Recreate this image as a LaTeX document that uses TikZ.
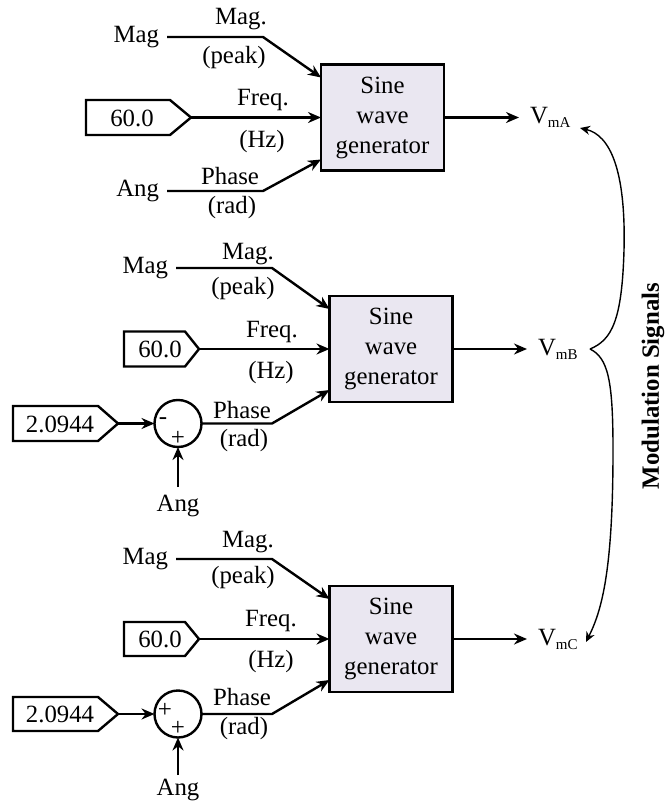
\documentclass[tikz,border=0pt]{standalone}
\usepackage{fontspec}
\setmainfont{Liberation Serif}
\usetikzlibrary{arrows.meta,calc}
\definecolor{boxfill}{RGB}{234,231,241}
% voltage symbol with a lowered, smaller subscript
\newcommand\Vsub[1]{V\raisebox{-2pt}{\fontsize{7.5}{8}\selectfont #1}}
\begin{document}
\begin{tikzpicture}[x=0.5pt,y=-0.5pt,
  every node/.style={font=\fontsize{12.4}{15}\selectfont, inner sep=0pt, outer sep=0pt},
  sig/.style={line width=1.2pt, -{Stealth[length=6.5pt,width=5.5pt]}},
  constbox/.style={draw, line width=1.2pt, fill=white},
  gen/.style={draw, line width=1.4pt, fill=boxfill, minimum width=61.5pt,
              minimum height=53pt, align=center},
  sumnode/.style={draw, circle, line width=1.2pt, minimum size=23.5pt},
  sign/.style={font=\fontsize{12.5}{12.5}\selectfont},
  inlbl/.style={inner sep=4pt},
  outlbl/.style={anchor=west, inner xsep=5.5pt, inner ysep=0pt},
  brace/.style={line width=0.7pt, -{Stealth[length=5pt,width=4.5pt]}}
]
\path[use as bounding box] (0,0) rectangle (667,801);

% ---------------- phase A ----------------
\node[gen] (genA) at (382.5,117.5) {Sine\\wave\\generator};
\node[inlbl, anchor=east] (magA) at (167,37) {Mag};
\node[inlbl, anchor=east] (angA) at (167,191) {Ang};
\draw[constbox] (86,100) -- (170,100) -- (191,117.5) -- (170,135) -- (86,135) -- cycle;
\node (kA) at (132,118) {60.0};
\coordinate (kAtip) at (191,117.5);
\draw[sig] (magA.east) -- (263,37) -- ($(genA.west)+(0,-40)$);
\draw[sig] (kAtip) -- (genA.west);
\draw[sig] (angA.east) -- (263,191) -- ($(genA.west)+(0,42)$);
\node at (241,19) {Mag.};
\node at (234,58) {(peak)};
\node at (263,100) {Freq.};
\node at (262,142) {(Hz)};
\node at (230,176) {Phase};
\node at (232,208) {(rad)};
\node[outlbl] (vA) at (519,117.5) {\Vsub{mA}};
\draw[sig] (genA.east) -- (vA.west);

% ---------------- phase B ----------------
\node[gen] (genB) at (391,349) {Sine\\wave\\generator};
\node[inlbl, anchor=east] (magB) at (176,268) {Mag};
\draw[constbox] (124,331.5) -- (185,331.5) -- (199,349) -- (185,366.5) -- (124,366.5) -- cycle;
\node (kB) at (160,349) {60.0};
\coordinate (kBtip) at (199,349);
\draw[constbox] (13,406) -- (98,406) -- (118,423.5) -- (98,441) -- (13,441) -- cycle;
\node (shB) at (60,424) {2.0944};
\coordinate (shBtip) at (118,423.5);
\node[sumnode] (sumB) at (178,423.5) {};
\node[sign] at (163,421) {-};
\node[sign] at (178,438) {+};
\node[inlbl, anchor=north] (angB) at (178,487) {Ang};
\draw[sig] (magB.east) -- (272,268) -- ($(genB.west)+(0,-40)$);
\draw[sig] (kBtip) -- (genB.west);
\draw[sig] (shBtip) -- (sumB.west);
\draw[sig] (angB.north) -- (sumB.south);
\draw[sig] (sumB.east) -- (272,423.5) -- ($(genB.west)+(0,41)$);
\node at (248,254) {Mag.};
\node at (243,289) {(peak)};
\node at (272,332) {Freq.};
\node at (271,373) {(Hz)};
\node at (242,410) {Phase};
\node at (244,441) {(rad)};
\node[outlbl] (vB) at (527,349) {\Vsub{mB}};
\draw[sig] (genB.east) -- (vB.west);

% ---------------- phase C ----------------
\node[gen] (genC) at (391,639) {Sine\\wave\\generator};
\node[inlbl, anchor=east] (magC) at (176,559) {Mag};
\draw[constbox] (124,622) -- (185,622) -- (199,639) -- (185,656) -- (124,656) -- cycle;
\node (kC) at (160,639) {60.0};
\coordinate (kCtip) at (199,639);
\draw[constbox] (13,697) -- (98,697) -- (118,714) -- (98,731) -- (13,731) -- cycle;
\node (shC) at (60,714) {2.0944};
\coordinate (shCtip) at (118,714);
\node[sumnode] (sumC) at (178,714) {};
\node[sign] at (165,710) {+};
\node[sign] at (178,728) {+};
\node[inner sep=2pt, anchor=north] (angC) at (178,775) {Ang};
\draw[sig] (magC.east) -- (272,559) -- ($(genC.west)+(0,-40)$);
\draw[sig] (kCtip) -- (genC.west);
\draw[sig] (shCtip) -- (sumC.west);
\draw[sig] (angC.north) -- (sumC.south);
\draw[sig] (sumC.east) -- (272,714) -- ($(genC.west)+(0,41)$);
\node at (248,542) {Mag.};
\node at (243,578) {(peak)};
\node at (271,621) {Freq.};
\node at (271,662) {(Hz)};
\node at (242,697) {Phase};
\node at (244,729) {(rad)};
\node[outlbl] (vC) at (527,639) {\Vsub{mC}};
\draw[sig] (genC.east) -- (vC.west);

% ---------------- grouping brace ----------------
\coordinate (braceTip) at (590,349);
\coordinate (tA) at (580,128);
\coordinate (tC) at (586,642);
\draw[brace] (braceTip) .. controls (612,340) and (622,320) .. (624,250)
                        .. controls (626,170) and (610,135) .. (tA);
\draw[brace] (braceTip) .. controls (608,358) and (613,380) .. (613,450)
                        .. controls (613,570) and (602,610) .. (tC);
\node[rotate=90, font=\bfseries\fontsize{12.4}{15}\selectfont] (mod) at (653,386) {Modulation Signals};
\end{tikzpicture}
\end{document}
